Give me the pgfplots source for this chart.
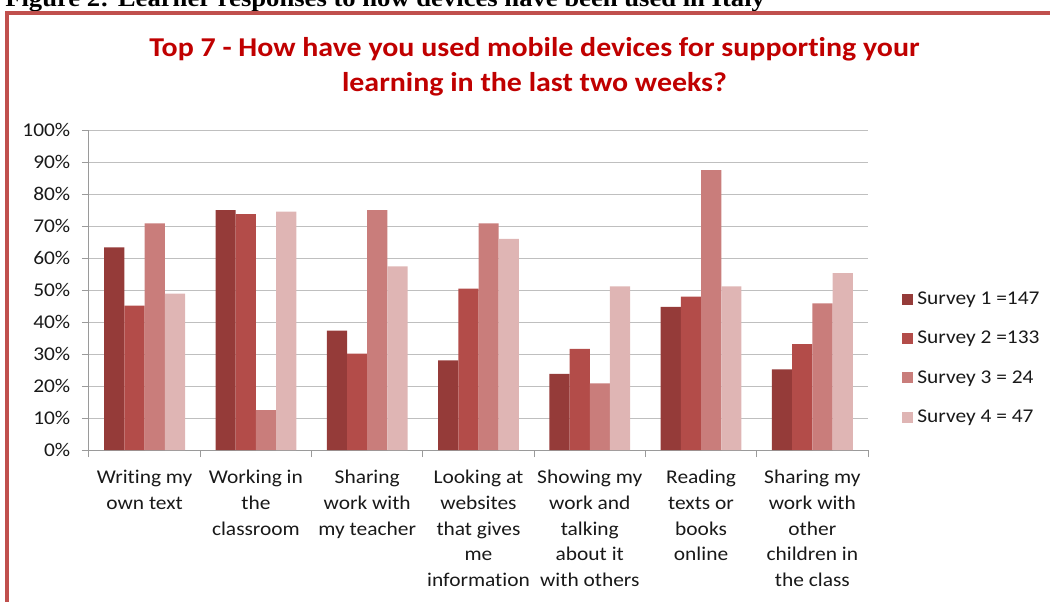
\documentclass[border=0pt]{standalone}
\usepackage{pgfplots}
\pgfplotsset{compat=1.18}
\usepackage{fontspec}
\setmainfont{Carlito}[FakeStretch=1.1, Ligatures=CommonOff]
\newfontfamily\captfont{Liberation Serif}[FakeStretch=1.11]
\definecolor{sone}{HTML}{953B39}
\definecolor{stwo}{HTML}{B34C49}
\definecolor{sthree}{HTML}{C97D7B}
\definecolor{sfour}{HTML}{DFB5B4}
\definecolor{framered}{HTML}{C0504D}
\definecolor{titlered}{HTML}{C00000}
\definecolor{gridgray}{HTML}{BFBFBF}
\definecolor{axisgray}{HTML}{9A9A9A}
\begin{document}
\begin{tikzpicture}
\begin{axis}[
  scale only axis, width=584.25pt, height=240pt,
  xmin=-0.5, xmax=6.5, ymin=0, ymax=100,
  ybar=0pt, bar width=15.15pt,
  axis lines=left, axis line style={-, draw=axisgray, line width=0.75pt},
  tick align=outside,
  major tick length=5.25pt, minor tick length=5.25pt,
  xtick={0,...,6},
  minor xtick={-0.5,0.5,...,6.5},
  major x tick style={draw=none},
  minor x tick style={draw=axisgray, line width=0.75pt},
  major y tick style={draw=axisgray, line width=0.75pt},
  ytick={0,10,...,100},
  yticklabels={0\%,10\%,20\%,30\%,40\%,50\%,60\%,70\%,80\%,90\%,100\%},
  ymajorgrids, grid style={gridgray, line width=0.75pt},
  xticklabels={{Writing my\\own text},{Working in\\the\\classroom},{Sharing\\work with\\my teacher},{Looking at\\websites\\that gives\\me\\information},{Showing my\\work and\\talking\\about it\\with others},{Reading\\texts or\\books\\online},{Sharing my\\work with\\other\\children in\\the class}},
  xticklabel style={align=center, font=\fontsize{14.6}{19.2}\selectfont, text=black!90, yshift=-6.5pt},
  yticklabel style={font=\fontsize{14.6}{19.2}\selectfont, text=black!90, xshift=-5.25pt},
  legend style={at={(1.0437,0.503)}, anchor=north west, draw=none, fill=none,
    font=\fontsize{14.6}{19.2}\selectfont, row sep=14.5pt, inner sep=0pt,
    nodes={inner xsep=3pt, inner ysep=2pt, text=black!90}},
  legend cell align=left,
  legend image code/.code={\fill[#1] (0pt,-4.1pt) rectangle (8.25pt,4.1pt);},
]
\addplot[fill=sone, draw=none] coordinates {(0,63.3) (1,75.0) (2,37.3) (3,28.0) (4,23.8) (5,44.7) (6,25.2)};
\addplot[fill=stwo, draw=none] coordinates {(0,45.1) (1,73.7) (2,30.1) (3,50.4) (4,31.6) (5,47.9) (6,33.1)};
\addplot[fill=sthree, draw=none] coordinates {(0,70.8) (1,12.5) (2,75.0) (3,70.8) (4,20.8) (5,87.5) (6,45.8)};
\addplot[fill=sfour, draw=none] coordinates {(0,48.9) (1,74.5) (2,57.4) (3,66.0) (4,51.1) (5,51.1) (6,55.3)};
\legend{Survey 1 =147, Survey 2 =133, Survey 3 = 24, Survey 4 = 47}
\coordinate (AO) at (rel axis cs:0,0);
\end{axis}
\begin{scope}[x=0.75pt, y=0.75pt, shift={(AO)}, shift={(-89,-151)}]
\node[anchor=base west, inner sep=0pt, font=\captfont\bfseries\fontsize{18}{20}\selectfont] at (5,594) {Figure 2: Learner responses to how devices have been used in Italy};
\draw[line width=3pt, framered] (7,-20) -- (7,588) -- (1070,588);
\node[anchor=base, inner sep=0pt, text=titlered, font=\bfseries\fontsize{20.4}{24}\selectfont] at (534.5,544) {Top 7 - How have you used mobile devices for supporting your};
\node[anchor=base, inner sep=0pt, text=titlered, font=\bfseries\fontsize{20.4}{24}\selectfont] at (534.5,509.5) {learning in the last two weeks?};
\pgfresetboundingbox
\useasboundingbox (0,0) rectangle (1050,601);
\end{scope}
\end{tikzpicture}
\end{document}
